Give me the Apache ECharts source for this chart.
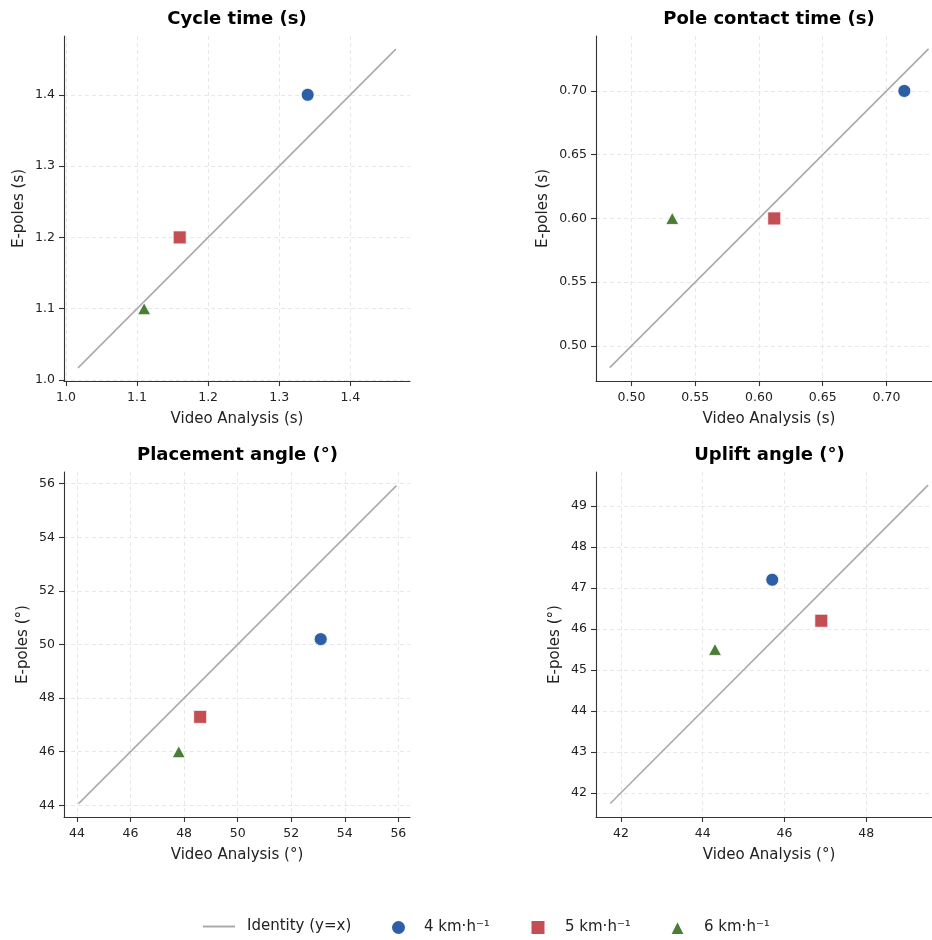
<!DOCTYPE html>
<html><head><meta charset="utf-8">
<script src="https://cdn.jsdelivr.net/npm/echarts@6/dist/echarts.min.js"></script>
<style>html,body{margin:0;padding:0;background:#fff}#c{width:932px;height:940px}</style>
</head><body><div id="c"></div>
<script>
// ---- data ----
const speeds = ['4 km·h⁻¹', '5 km·h⁻¹', '6 km·h⁻¹'];
const identityName = 'Identity (y=x)';
const panelTitles = ['Cycle time (s)', 'Pole contact time (s)', 'Placement angle (°)', 'Uplift angle (°)'];
const xNames = ['Video Analysis (s)', 'Video Analysis (s)', 'Video Analysis (°)', 'Video Analysis (°)'];
const yNames = ['E-poles (s)', 'E-poles (s)', 'E-poles (°)', 'E-poles (°)'];

const cycleVideo = [1.34, 1.16, 1.11];
const cycleEpoles = [1.40, 1.20, 1.10];
const cycleIdentity = [1.017, 1.464];
const cycleXTicks = [1.0, 1.1, 1.2, 1.3, 1.4];
const cycleYTicks = [1.0, 1.1, 1.2, 1.3, 1.4];
const cycleXRange = [0.9973, 1.4839];
const cycleYRange = [0.9986, 1.4825];

const contactVideo = [0.714, 0.612, 0.532];
const contactEpoles = [0.70, 0.60, 0.60];
const contactIdentity = [0.483, 0.733];
const contactXTicks = [0.50, 0.55, 0.60, 0.65, 0.70];
const contactYTicks = [0.50, 0.55, 0.60, 0.65, 0.70];
const contactXRange = [0.4722, 0.7357];
const contactYRange = [0.4725, 0.7431];

const placeVideo = [53.1, 48.6, 47.8];
const placeEpoles = [50.2, 47.3, 46.0];
const placeIdentity = [44.06, 55.93];
const placeXTicks = [44, 46, 48, 50, 52, 54, 56];
const placeYTicks = [44, 46, 48, 50, 52, 54, 56];
const placeXRange = [43.515, 56.435];
const placeYRange = [43.563, 56.436];

const upliftVideo = [45.7, 46.9, 44.3];
const upliftEpoles = [47.2, 46.2, 45.5];
const upliftIdentity = [41.74, 49.51];
const upliftXTicks = [42, 44, 46, 48];
const upliftYTicks = [42, 43, 44, 45, 46, 47, 48, 49];
const upliftXRange = [41.391, 49.606];
const upliftYRange = [41.41, 49.83];

// ---- styling ----
const colors = ['#2c5fa6', '#c44e52', '#4a7d35'];
const symbols = ['circle', 'rect', 'triangle'];
const symbolSizes = [13, 13, [13, 12]];
const FONT = 'DejaVu Sans';

const panels = [
  {video: cycleVideo, epoles: cycleEpoles, ident: cycleIdentity, xt: cycleXTicks, yt: cycleYTicks, xr: cycleXRange, yr: cycleYRange, dec: 1, yGap: 37, w: 346, xPad: 0},
  {video: contactVideo, epoles: contactEpoles, ident: contactIdentity, xt: contactXTicks, yt: contactYTicks, xr: contactXRange, yr: contactYRange, dec: 2, yGap: 45, w: 336, xPad: 10},
  {video: placeVideo, epoles: placeEpoles, ident: placeIdentity, xt: placeXTicks, yt: placeYTicks, xr: placeXRange, yr: placeYRange, dec: 0, yGap: 33, w: 346, xPad: 0},
  {video: upliftVideo, epoles: upliftEpoles, ident: upliftIdentity, xt: upliftXTicks, yt: upliftYTicks, xr: upliftXRange, yr: upliftYRange, dec: 0, yGap: 33, w: 336, xPad: 10}
];
const gridPos = [
  {left: 64, top: 36}, {left: 596, top: 36},
  {left: 64, top: 472}, {left: 596, top: 472}
];
const titleCenters = [[237, 10], [769, 10], [237.5, 446], [769.5, 446]];

const grids = [], xAxes = [], yAxes = [], series = [], titles = [];
const gridLine = {show: true, lineStyle: {color: '#e2e2e2', width: 0.8, type: [4, 3]}};
const axisLineStyle = {show: true, lineStyle: {color: '#333', width: 1.1}};

panels.forEach((p, i) => {
  grids.push({left: gridPos[i].left, top: gridPos[i].top, width: p.w, height: 345, containLabel: false});
  titles.push({
    text: panelTitles[i], left: titleCenters[i][0], top: titleCenters[i][1], textAlign: 'center', padding: 0,
    textStyle: {fontFamily: FONT, fontSize: 18, fontWeight: 'bold', color: '#000'}
  });
  const fmt = v => Number(v).toFixed(p.dec);
  xAxes.push({
    type: 'value', gridIndex: i, min: p.xr[0], max: p.xr[1],
    name: xNames[i], nameLocation: 'middle', nameGap: 31,
    nameTextStyle: {fontFamily: FONT, fontSize: 15, color: '#222', padding: [0, 0, 0, p.xPad]},
    axisLine: axisLineStyle,
    axisTick: {show: true, length: 5, customValues: p.xt, lineStyle: {color: '#333', width: 1.1}},
    axisLabel: {customValues: p.xt, formatter: fmt, margin: 10, fontFamily: FONT, fontSize: 12.5, color: '#222'},
    splitLine: Object.assign({customValues: p.xt}, gridLine)
  });
  yAxes.push({
    type: 'value', gridIndex: i, min: p.yr[0], max: p.yr[1],
    name: yNames[i], nameLocation: 'middle', nameGap: p.yGap,
    nameTextStyle: {fontFamily: FONT, fontSize: 15, color: '#222'},
    axisLine: axisLineStyle,
    axisTick: {show: true, length: 5, customValues: p.yt, lineStyle: {color: '#333', width: 1.1}},
    axisLabel: {customValues: p.yt, formatter: fmt, margin: 9, fontFamily: FONT, fontSize: 12.5, color: '#222'},
    splitLine: Object.assign({customValues: p.yt}, gridLine)
  });
  series.push({
    name: identityName, type: 'line', xAxisIndex: i, yAxisIndex: i,
    data: [[p.ident[0], p.ident[0]], [p.ident[1], p.ident[1]]],
    symbol: 'none', silent: true, z: 2,
    itemStyle: {color: '#aaaaaa'},
    lineStyle: {color: '#aaaaaa', width: 1.6}
  });
  speeds.forEach((s, k) => {
    series.push({
      name: s, type: 'scatter', xAxisIndex: i, yAxisIndex: i,
      data: [[p.video[k], p.epoles[k]]],
      symbol: symbols[k], symbolSize: symbolSizes[k], z: 3,
      itemStyle: {color: colors[k], borderColor: '#ffffff', borderWidth: 0.8, opacity: 1}
    });
  });
});

const legendText = {fontFamily: FONT, fontSize: 15, color: '#222'};
const legendBase = {top: 919, padding: 0, orient: 'horizontal', selectedMode: false};
const legends = [
  Object.assign({}, legendBase, {left: 203, itemWidth: 32, itemHeight: 2,
    data: [{name: identityName, icon: 'rect', itemStyle: {color: '#aaaaaa', borderWidth: 0}}],
    textStyle: Object.assign({}, legendText, {padding: [0, 0, 0, 7]})}),
  Object.assign({}, legendBase, {left: 390, itemWidth: 15, itemHeight: 15, data: [speeds[0]],
    textStyle: Object.assign({}, legendText, {padding: [0, 0, 0, 13]})}),
  Object.assign({}, legendBase, {left: 529.5, itemWidth: 15, itemHeight: 15, data: [speeds[1]],
    textStyle: Object.assign({}, legendText, {padding: [0, 0, 0, 14.5]})}),
  Object.assign({}, legendBase, {left: 669, itemWidth: 15, itemHeight: 15, data: [speeds[2]],
    textStyle: Object.assign({}, legendText, {padding: [0, 0, 0, 14]})})
];

const chart = echarts.init(document.getElementById('c'), null, {renderer: 'canvas'});
chart.setOption({
  animation: false,
  backgroundColor: '#ffffff',
  title: titles,
  legend: legends,
  grid: grids,
  xAxis: xAxes,
  yAxis: yAxes,
  series: series
});
</script>
</body></html>
